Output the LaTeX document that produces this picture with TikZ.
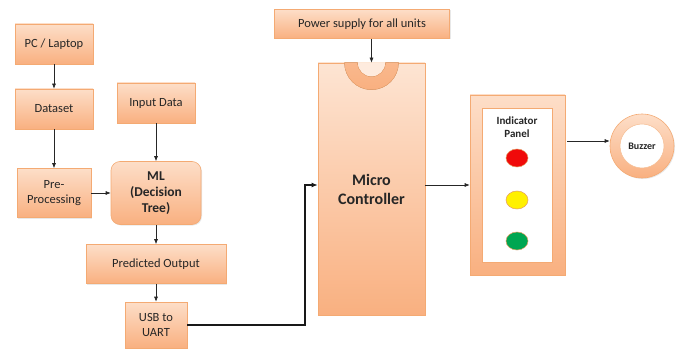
\documentclass[tikz,border=0pt]{standalone}
\usepackage{fontspec}
\setmainfont{Carlito}
\usetikzlibrary{arrows.meta,shadows,calc,shapes.geometric}

\definecolor{peachtop}{RGB}{253,222,200}
\definecolor{peachbot}{RGB}{249,176,128}
\definecolor{edgeor}{RGB}{244,170,115}
\definecolor{lampred}{RGB}{240,10,10}
\definecolor{lampyel}{RGB}{255,240,0}
\definecolor{lampgrn}{RGB}{0,166,81}

\tikzset{
  blk/.style={draw=edgeor, line width=0.6pt, top color=peachtop, bottom color=peachbot,
    align=center, inner sep=2pt, text=black!85,
    drop shadow={opacity=0.18, shadow xshift=1pt, shadow yshift=-1pt},
    font=\fontsize{12.5}{15}\selectfont},
  conn/.style={-{Latex[length=5pt,width=4pt]}, line width=0.6pt, black!85},
  lamp/.style={ellipse, minimum width=22pt, minimum height=18pt, inner sep=0pt,
    draw=edgeor!70!brown, line width=0.5pt},
}

\begin{document}
\begin{tikzpicture}[x=1pt,y=1pt]
\useasboundingbox (0,0) rectangle (677,-350);

% left column: data preparation
\node[blk, minimum width=78pt, minimum height=40pt] (pc) at (54,-44) {PC / Laptop};
\node[blk, minimum width=78pt, minimum height=40pt] (data) at (54,-109) {Dataset};
\node[blk, minimum width=74pt, minimum height=49pt] (pre) at (54,-193) {Pre-\\Processing};
\node[blk, minimum width=78pt, minimum height=40pt] (inp) at (156,-103) {Input Data};
\node[blk, rounded corners=9pt, minimum width=90pt, minimum height=63pt,
      font=\fontsize{13.5}{16}\selectfont\bfseries] (ml) at (156,-193) {ML\\(Decision\\Tree)};
\node[blk, minimum width=140pt, minimum height=39pt] (pred) at (156,-264) {Predicted Output};
\node[blk, minimum width=62pt, minimum height=46pt] (usb) at (156,-325) {USB to\\UART};

% power and controller
\node[blk, minimum width=175pt, minimum height=29pt] (pwr) at (362,-24) {Power supply for all units};
\node[blk, minimum width=107pt, minimum height=252pt,
      top color=peachtop!80!white, bottom color=peachbot,
      font=\fontsize{16}{19}\selectfont\bfseries] (mc) at (371.5,-189) {Micro\\Controller};
% notch on top of the controller
\fill[top color=peachbot!90!white, bottom color=peachbot, draw=edgeor, line width=0.5pt]
  ($(mc.north)+(-27,0)$) arc[start angle=180, end angle=360, radius=27]
  -- ($(mc.north)+(14,0)$) arc[start angle=0, end angle=-180, radius=14] -- cycle;
\fill[peachtop!60!white] ($(mc.north)+(-13.5,0)$) arc[start angle=180, end angle=360, radius=13.5] -- cycle;

% indicator panel
\node[blk, minimum width=95pt, minimum height=180pt] (panel) at (517.5,-185) {};
\node[draw=edgeor, line width=0.5pt, fill=white, minimum width=70pt, minimum height=154pt,
      inner sep=0pt] (inner) at (517,-185) {};
\node[font=\fontsize{11}{12.5}\selectfont\bfseries, align=center, text=black!85] (ptitle)
  at (517,-127) {Indicator\\Panel};
\node[lamp, fill=lampred] (red) at (517,-158) {};
\node[lamp, fill=lampyel] (yel) at (517,-200) {};
\node[lamp, fill=lampgrn] (grn) at (517,-241) {};

% buzzer
\node[circle, draw=edgeor, line width=0.6pt, top color=peachtop, bottom color=peachbot,
      minimum size=64pt, inner sep=0pt,
      drop shadow={opacity=0.18, shadow xshift=1pt, shadow yshift=-1pt}] (buzzer) at (642,-146) {};
\node[circle, draw=edgeor!80, line width=0.5pt, fill=white, minimum size=44pt, inner sep=0pt,
      font=\fontsize{10}{12}\selectfont\bfseries, text=black!85] (bz) at (642,-146) {Buzzer};

% connectors
\draw[conn] (pc) -- (data);
\draw[conn] (data) -- (pre);
\draw[conn] (pre) -- (ml);
\draw[conn] (inp) -- (ml);
\draw[conn] (ml) -- (pred);
\draw[conn] (pred) -- (usb);
\draw[conn] (pwr.south -| mc.north) -- (mc.north);
\coordinate (mcin) at ([yshift=4pt]mc.west);
\draw[-{Latex[length=6pt,width=5pt]}, line width=2pt, black!90] (usb.east) -- ++(118,0) |- (mcin);
\coordinate (mcout) at ([yshift=4pt]mc.east);
\draw[conn] (mcout) -- (mcout -| panel.west);
\coordinate (pout) at ([xshift=2pt,yshift=44pt]panel.east);
\draw[conn] (pout) -- (pout -| buzzer.west);
\end{tikzpicture}
\end{document}
